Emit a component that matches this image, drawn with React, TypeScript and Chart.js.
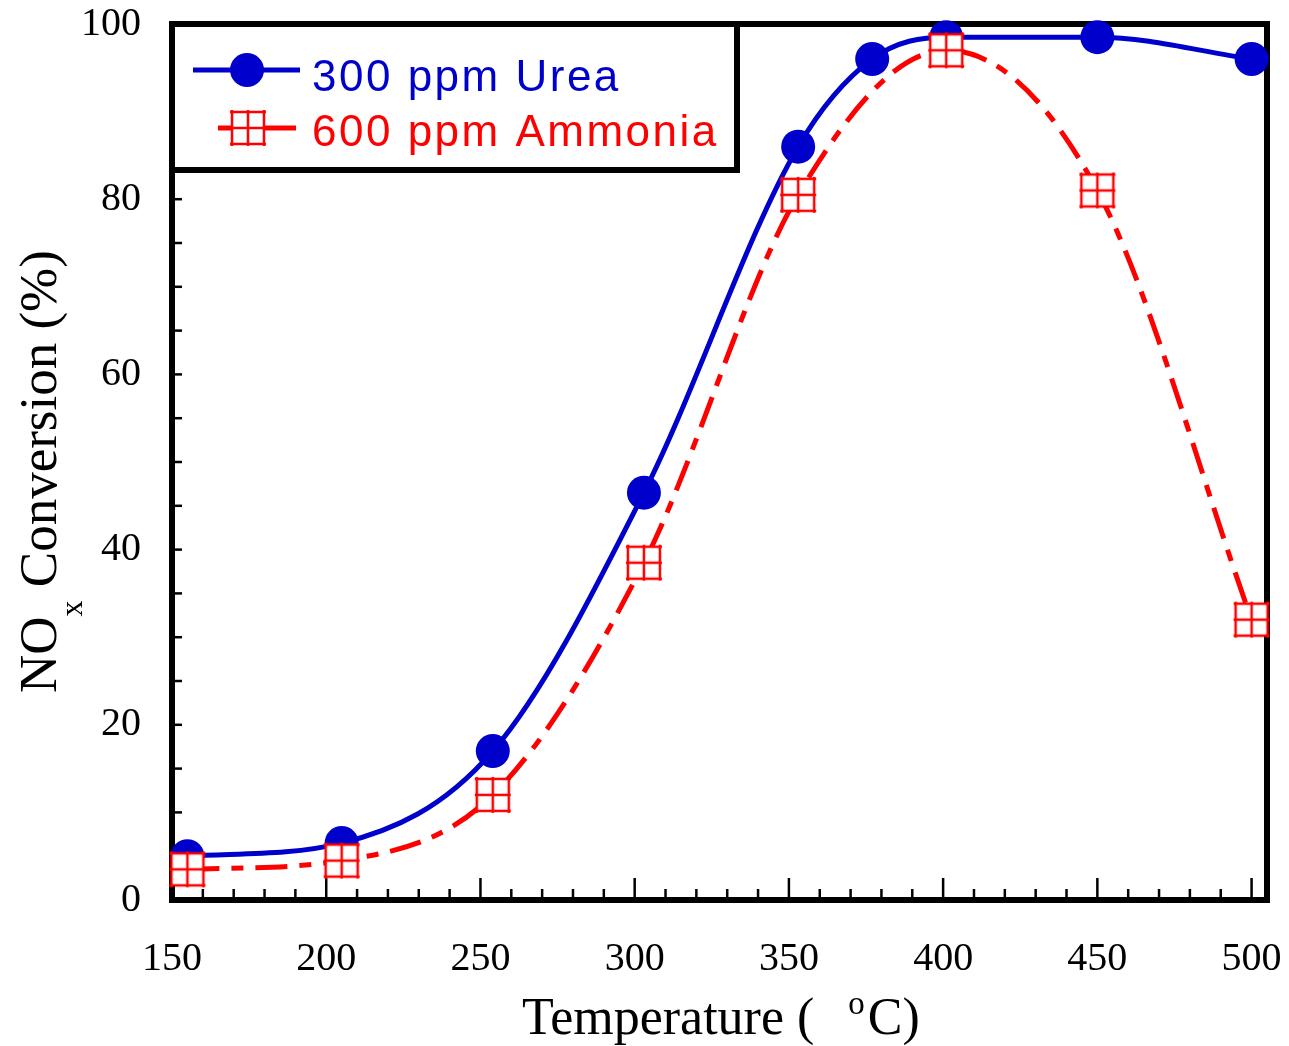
import React, { useEffect, useRef } from "react";
import { Chart, registerables } from "chart.js";

Chart.register(...registerables);

// ---- data ----
const ureaTemps = [155, 205, 254, 303, 353, 377, 401, 450, 500];
const ureaConversion = [5, 6.5, 17, 46.5, 86, 96, 98.5, 98.5, 96];
const ammoniaTemps = [155, 205, 254, 303, 353, 401, 450, 500];
const ammoniaConversion = [3.5, 4.5, 12, 38.5, 80.5, 97, 81, 32];
const xTickValues = [150, 200, 250, 300, 350, 400, 450, 500];
const yTickValues = [0, 20, 40, 60, 80, 100];
const seriesNames = ["300 ppm Urea", "600 ppm Ammonia"];

const BLUE = "#0000CC";
const RED = "#FF0000";
const SERIF = '"Liberation Serif", "Times New Roman", serif';
const SANS = '"Liberation Sans", Arial, sans-serif';

function makeGridMarker(size: number): HTMLCanvasElement {
  const pad = 3;
  const s = size + pad * 2;
  const c = document.createElement("canvas");
  c.width = s;
  c.height = s;
  const g = c.getContext("2d")!;
  g.fillStyle = "#fff";
  g.fillRect(pad, pad, size, size);
  g.strokeStyle = RED;
  g.lineWidth = 2.5;
  for (let i = 0; i <= 2; i++) {
    const p = pad + (i * size) / 2;
    g.beginPath();
    g.moveTo(p, 1);
    g.lineTo(p, s - 1);
    g.stroke();
    g.beginPath();
    g.moveTo(1, p);
    g.lineTo(s - 1, p);
    g.stroke();
  }
  return c;
}

function zeroPadding(s: any) {
  s.paddingTop = 0;
  s.paddingBottom = 0;
  s.paddingLeft = 0;
  s.paddingRight = 0;
}

export default function App() {
  const ref = useRef<HTMLCanvasElement | null>(null);

  useEffect(() => {
    if (!ref.current) return;
    const marker = makeGridMarker(32);

    const framePlugin = {
      id: "frame",
      beforeDatasetsDraw(chart: any) {
        const { ctx, chartArea: a, scales } = chart;
        const xs = scales.x;
        const ys = scales.y;
        ctx.save();
        ctx.strokeStyle = "#000";
        ctx.lineCap = "butt";
        ctx.lineWidth = 2.5;
        for (let v = 160; v <= 500; v += 10) {
          const px = xs.getPixelForValue(v);
          const len = v % 50 === 0 ? 22 : 11;
          ctx.beginPath();
          ctx.moveTo(px, a.bottom);
          ctx.lineTo(px, a.bottom - len);
          ctx.stroke();
        }
        for (let v = 5; v < 100; v += 5) {
          const py = ys.getPixelForValue(v);
          ctx.beginPath();
          ctx.moveTo(a.left, py);
          ctx.lineTo(a.left + 10, py);
          ctx.stroke();
        }
        ctx.lineWidth = 6;
        ctx.strokeRect(a.left, a.top, a.right - a.left, a.bottom - a.top);
        ctx.restore();
      },
      afterDatasetsDraw(chart: any) {
        const { ctx, chartArea: a } = chart;
        ctx.save();
        const bx = a.left;
        const by = a.top;
        const bw = 565;
        const bh = 146;
        ctx.fillStyle = "#fff";
        ctx.fillRect(bx, by, bw, bh);
        ctx.strokeStyle = "#000";
        ctx.lineWidth = 6;
        ctx.strokeRect(bx, by, bw, bh);

        ctx.strokeStyle = BLUE;
        ctx.lineWidth = 5;
        ctx.beginPath();
        ctx.moveTo(193, 70);
        ctx.lineTo(300, 70);
        ctx.stroke();
        ctx.fillStyle = BLUE;
        ctx.beginPath();
        ctx.arc(247, 70, 17, 0, Math.PI * 2);
        ctx.fill();

        ctx.strokeStyle = RED;
        ctx.beginPath();
        ctx.moveTo(218, 128);
        ctx.lineTo(233, 128);
        ctx.moveTo(265, 128);
        ctx.lineTo(296, 128);
        ctx.stroke();
        ctx.drawImage(marker, 248 - marker.width / 2, 128 - marker.height / 2);

        ctx.font = `44px ${SANS}`;
        (ctx as any).letterSpacing = "2.5px";
        ctx.textBaseline = "alphabetic";
        ctx.textAlign = "left";
        ctx.fillStyle = BLUE;
        ctx.fillText(seriesNames[0], 312, 91);
        ctx.fillStyle = RED;
        ctx.fillText(seriesNames[1], 312, 146);
        ctx.restore();
      },
      afterDraw(chart: any) {
        const { ctx } = chart;
        ctx.save();
        ctx.fillStyle = "#000";
        ctx.textBaseline = "alphabetic";
        ctx.textAlign = "left";
        const big = `52px ${SERIF}`;
        const small = `33px ${SERIF}`;
        ctx.font = big;
        const p1 = "Temperature (";
        const w1 = ctx.measureText(p1).width;
        const gap = 34;
        let x = 522;
        const base = 1034;
        ctx.fillText(p1, x, base);
        x += w1 + gap;
        ctx.font = small;
        ctx.fillText("o", x, base - 20);
        x += ctx.measureText("o").width + 3;
        ctx.font = big;
        ctx.fillText("C)", x, base);

        ctx.translate(56, 693);
        ctx.rotate(-Math.PI / 2);
        const yb = `53px ${SERIF}`;
        const ysF = `32px ${SERIF}`;
        ctx.font = yb;
        ctx.fillText("NO", 0, 0);
        let tx = ctx.measureText("NO").width;
        ctx.font = ysF;
        ctx.fillText("x", tx, 26);
        tx += ctx.measureText("x").width;
        ctx.font = yb;
        ctx.fillText(" Conversion (%)", tx, 0);
        ctx.restore();
      },
    };

    const chart = new Chart(ref.current, {
      type: "line",
      data: {
        datasets: [
          {
            label: seriesNames[1],
            data: ammoniaTemps.map((t, i) => ({ x: t, y: ammoniaConversion[i] })),
            borderColor: RED,
            borderWidth: 5,
            borderDash: [32, 12, 12, 12],
            cubicInterpolationMode: "monotone",
            pointStyle: marker as any,
            pointRadius: 17,
            clip: false as any,
            order: 0,
          },
          {
            label: seriesNames[0],
            data: ureaTemps.map((t, i) => ({ x: t, y: ureaConversion[i] })),
            borderColor: BLUE,
            borderWidth: 5,
            cubicInterpolationMode: "monotone",
            pointStyle: "circle",
            pointRadius: 17,
            pointBackgroundColor: BLUE,
            pointBorderWidth: 0,
            clip: false as any,
            order: 1,
          },
        ],
      },
      options: {
        animation: false,
        responsive: false,
        events: [],
        layout: { padding: { top: 24, right: 19, left: 0, bottom: 0 } },
        plugins: { legend: { display: false }, tooltip: { enabled: false } },
        scales: {
          x: {
            type: "linear",
            min: 150,
            max: 505,
            afterFit(s: any) {
              s.height = 146;
              zeroPadding(s);
            },
            afterBuildTicks(s: any) {
              s.ticks = xTickValues.map((v) => ({ value: v }));
            },
            grid: { display: false, drawTicks: false },
            border: { display: false },
            ticks: {
              font: { family: SERIF, size: 40 },
              color: "#000",
              padding: 35,
              maxRotation: 0,
              autoSkip: false,
            },
          },
          y: {
            type: "linear",
            min: 0,
            max: 100,
            afterFit(s: any) {
              s.width = 172;
              zeroPadding(s);
            },
            afterBuildTicks(s: any) {
              s.ticks = yTickValues.map((v) => ({ value: v }));
            },
            grid: { display: false, drawTicks: false },
            border: { display: false },
            ticks: {
              font: { family: SERIF, size: 40 },
              color: "#000",
              padding: 31,
              autoSkip: false,
            },
          },
        },
      },
      plugins: [framePlugin],
    } as any);

    return () => chart.destroy();
  }, []);

  return (
    <div style={{ position: "absolute", left: 0, top: 0, width: 1289, height: 1046, background: "#fff" }}>
      <canvas ref={ref} width={1289} height={1046} style={{ display: "block" }} />
    </div>
  );
}
